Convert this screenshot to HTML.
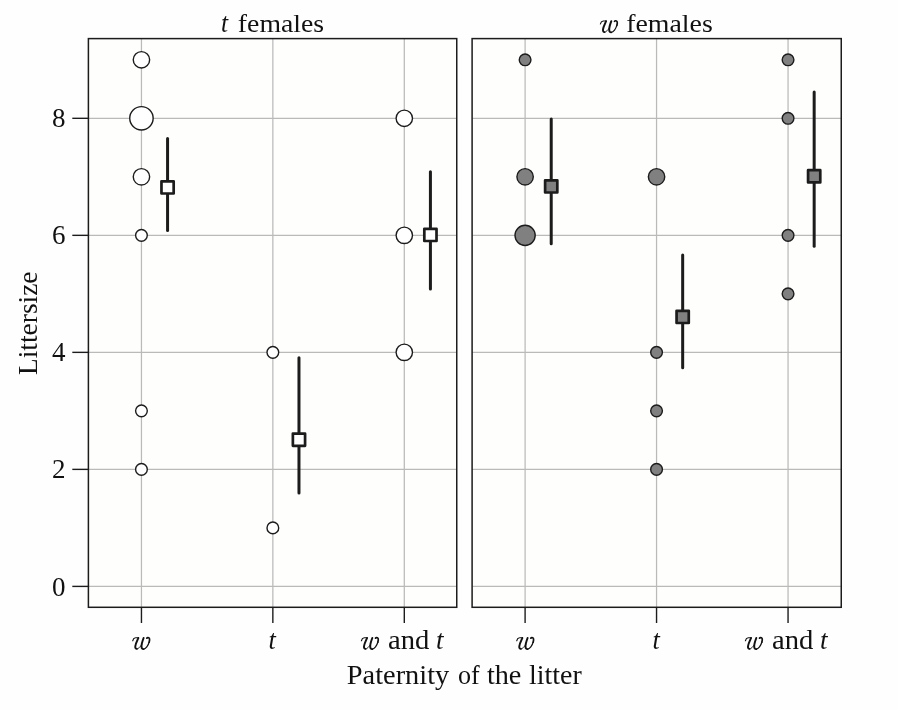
<!DOCTYPE html>
<html><head><meta charset="utf-8"><style>
html,body{margin:0;padding:0;background:#fefefe;}
svg{display:block;}
text{font-family:"Liberation Serif",serif;font-size:27px;fill:#111;}
svg{will-change:transform;}
</style></head><body>
<svg width="898" height="710" viewBox="0 0 898 710">
<rect x="88.4" y="38.6" width="368.35" height="568.70" fill="#fefefd"/>
<line x1="88.4" x2="456.75" y1="586.40" y2="586.40" stroke="#bababa" stroke-width="1.25"/>
<line x1="88.4" x2="456.75" y1="469.38" y2="469.38" stroke="#bababa" stroke-width="1.25"/>
<line x1="88.4" x2="456.75" y1="352.36" y2="352.36" stroke="#bababa" stroke-width="1.25"/>
<line x1="88.4" x2="456.75" y1="235.34" y2="235.34" stroke="#bababa" stroke-width="1.25"/>
<line x1="88.4" x2="456.75" y1="118.32" y2="118.32" stroke="#bababa" stroke-width="1.25"/>
<line x1="141.45" x2="141.45" y1="38.6" y2="607.3" stroke="#bababa" stroke-width="1.25"/>
<line x1="272.85" x2="272.85" y1="38.6" y2="607.3" stroke="#bababa" stroke-width="1.25"/>
<line x1="404.30" x2="404.30" y1="38.6" y2="607.3" stroke="#bababa" stroke-width="1.25"/>
<rect x="472.1" y="38.6" width="369.15" height="568.70" fill="#fefefd"/>
<line x1="472.1" x2="841.25" y1="586.40" y2="586.40" stroke="#bababa" stroke-width="1.25"/>
<line x1="472.1" x2="841.25" y1="469.38" y2="469.38" stroke="#bababa" stroke-width="1.25"/>
<line x1="472.1" x2="841.25" y1="352.36" y2="352.36" stroke="#bababa" stroke-width="1.25"/>
<line x1="472.1" x2="841.25" y1="235.34" y2="235.34" stroke="#bababa" stroke-width="1.25"/>
<line x1="472.1" x2="841.25" y1="118.32" y2="118.32" stroke="#bababa" stroke-width="1.25"/>
<line x1="525.10" x2="525.10" y1="38.6" y2="607.3" stroke="#bababa" stroke-width="1.25"/>
<line x1="656.55" x2="656.55" y1="38.6" y2="607.3" stroke="#bababa" stroke-width="1.25"/>
<line x1="788.05" x2="788.05" y1="38.6" y2="607.3" stroke="#bababa" stroke-width="1.25"/>
<circle cx="141.45" cy="59.81" r="8.20" fill="#fff" stroke="#1c1c1c" stroke-width="1.4"/>
<circle cx="141.45" cy="118.32" r="11.70" fill="#fff" stroke="#1c1c1c" stroke-width="1.4"/>
<circle cx="141.45" cy="176.83" r="8.20" fill="#fff" stroke="#1c1c1c" stroke-width="1.4"/>
<circle cx="141.45" cy="235.34" r="5.85" fill="#fff" stroke="#1c1c1c" stroke-width="1.4"/>
<circle cx="141.45" cy="410.87" r="5.85" fill="#fff" stroke="#1c1c1c" stroke-width="1.4"/>
<circle cx="141.45" cy="469.38" r="5.85" fill="#fff" stroke="#1c1c1c" stroke-width="1.4"/>
<circle cx="272.85" cy="352.36" r="5.85" fill="#fff" stroke="#1c1c1c" stroke-width="1.4"/>
<circle cx="272.85" cy="527.89" r="5.85" fill="#fff" stroke="#1c1c1c" stroke-width="1.4"/>
<circle cx="404.30" cy="118.32" r="8.20" fill="#fff" stroke="#1c1c1c" stroke-width="1.4"/>
<circle cx="404.30" cy="235.34" r="8.20" fill="#fff" stroke="#1c1c1c" stroke-width="1.4"/>
<circle cx="404.30" cy="352.36" r="8.20" fill="#fff" stroke="#1c1c1c" stroke-width="1.4"/>
<circle cx="525.10" cy="59.81" r="5.85" fill="#808080" stroke="#1c1c1c" stroke-width="1.4"/>
<circle cx="525.10" cy="176.83" r="8.20" fill="#808080" stroke="#1c1c1c" stroke-width="1.4"/>
<circle cx="525.10" cy="235.34" r="10.10" fill="#808080" stroke="#1c1c1c" stroke-width="1.4"/>
<circle cx="656.55" cy="176.83" r="8.20" fill="#808080" stroke="#1c1c1c" stroke-width="1.4"/>
<circle cx="656.55" cy="352.36" r="5.85" fill="#808080" stroke="#1c1c1c" stroke-width="1.4"/>
<circle cx="656.55" cy="410.87" r="5.85" fill="#808080" stroke="#1c1c1c" stroke-width="1.4"/>
<circle cx="656.55" cy="469.38" r="5.85" fill="#808080" stroke="#1c1c1c" stroke-width="1.4"/>
<circle cx="788.05" cy="59.81" r="5.85" fill="#808080" stroke="#1c1c1c" stroke-width="1.4"/>
<circle cx="788.05" cy="118.32" r="5.85" fill="#808080" stroke="#1c1c1c" stroke-width="1.4"/>
<circle cx="788.05" cy="235.34" r="5.85" fill="#808080" stroke="#1c1c1c" stroke-width="1.4"/>
<circle cx="788.05" cy="293.85" r="5.85" fill="#808080" stroke="#1c1c1c" stroke-width="1.4"/>
<line x1="167.57" x2="167.57" y1="138.50" y2="230.50" stroke="#1c1c1c" stroke-width="3.0" stroke-linecap="round"/>
<rect x="161.47" y="181.30" width="12.20" height="12.20" fill="#fff" stroke="#1c1c1c" stroke-width="2.7" stroke-linejoin="round"/>
<line x1="298.97" x2="298.97" y1="357.70" y2="492.90" stroke="#1c1c1c" stroke-width="3.0" stroke-linecap="round"/>
<rect x="292.87" y="433.60" width="12.20" height="12.20" fill="#fff" stroke="#1c1c1c" stroke-width="2.7" stroke-linejoin="round"/>
<line x1="430.42" x2="430.42" y1="171.75" y2="289.00" stroke="#1c1c1c" stroke-width="3.0" stroke-linecap="round"/>
<rect x="424.32" y="228.80" width="12.20" height="12.20" fill="#fff" stroke="#1c1c1c" stroke-width="2.7" stroke-linejoin="round"/>
<line x1="551.22" x2="551.22" y1="119.10" y2="243.85" stroke="#1c1c1c" stroke-width="3.0" stroke-linecap="round"/>
<rect x="545.12" y="180.30" width="12.20" height="12.20" fill="#808080" stroke="#1c1c1c" stroke-width="2.7" stroke-linejoin="round"/>
<line x1="682.67" x2="682.67" y1="254.90" y2="367.70" stroke="#1c1c1c" stroke-width="3.0" stroke-linecap="round"/>
<rect x="676.57" y="310.80" width="12.20" height="12.20" fill="#808080" stroke="#1c1c1c" stroke-width="2.7" stroke-linejoin="round"/>
<line x1="814.17" x2="814.17" y1="92.10" y2="246.30" stroke="#1c1c1c" stroke-width="3.0" stroke-linecap="round"/>
<rect x="808.07" y="170.20" width="12.20" height="12.20" fill="#808080" stroke="#1c1c1c" stroke-width="2.7" stroke-linejoin="round"/>
<rect x="88.4" y="38.6" width="368.35" height="568.70" fill="none" stroke="#1c1c1c" stroke-width="1.5"/>
<rect x="472.1" y="38.6" width="369.15" height="568.70" fill="none" stroke="#1c1c1c" stroke-width="1.5"/>
<line x1="72.3" x2="88.4" y1="586.40" y2="586.40" stroke="#1c1c1c" stroke-width="1.4"/>
<line x1="72.3" x2="88.4" y1="469.38" y2="469.38" stroke="#1c1c1c" stroke-width="1.4"/>
<line x1="72.3" x2="88.4" y1="352.36" y2="352.36" stroke="#1c1c1c" stroke-width="1.4"/>
<line x1="72.3" x2="88.4" y1="235.34" y2="235.34" stroke="#1c1c1c" stroke-width="1.4"/>
<line x1="72.3" x2="88.4" y1="118.32" y2="118.32" stroke="#1c1c1c" stroke-width="1.4"/>
<line x1="141.45" x2="141.45" y1="607.3" y2="623" stroke="#1c1c1c" stroke-width="1.4"/>
<line x1="272.85" x2="272.85" y1="607.3" y2="623" stroke="#1c1c1c" stroke-width="1.4"/>
<line x1="404.30" x2="404.30" y1="607.3" y2="623" stroke="#1c1c1c" stroke-width="1.4"/>
<line x1="525.10" x2="525.10" y1="607.3" y2="623" stroke="#1c1c1c" stroke-width="1.4"/>
<line x1="656.55" x2="656.55" y1="607.3" y2="623" stroke="#1c1c1c" stroke-width="1.4"/>
<line x1="788.05" x2="788.05" y1="607.3" y2="623" stroke="#1c1c1c" stroke-width="1.4"/>
<text x="220.96" y="32.0" style="font-size:27px" textLength="7.09" lengthAdjust="spacingAndGlyphs" font-style="italic">t</text>
<text x="237.87" y="32.0" style="font-size:26px" textLength="86.28" lengthAdjust="spacingAndGlyphs">females</text>
<g transform="translate(599.90,31.90) scale(1,0.92)"><path d="M0.5 -8.6 C0.9 -10.5 1.8 -11.6 3.2 -11.8 C4.4 -12.0 5.5 -11.8 6.3 -12.0" fill="none" stroke="#111" stroke-width="1.15" stroke-linecap="round"/><path d="M6.2 -11.6 C5.0 -8.6 3.3 -5.2 3.1 -2.7 C2.9 -0.6 3.7 0.3 4.6 0.3" fill="none" stroke="#111" stroke-width="1.95" stroke-linecap="round"/><path d="M4.6 0.3 C6.4 0.2 8.3 -2.3 9.6 -4.6" fill="none" stroke="#111" stroke-width="0.9" stroke-linecap="round"/><path d="M11.4 -11.7 C10.4 -8.8 9.3 -5.2 9.3 -2.6 C9.3 -0.5 10.1 0.5 11.3 0.5" fill="none" stroke="#111" stroke-width="1.95" stroke-linecap="round"/><path d="M11.3 0.5 C13.6 0.4 16.0 -3.5 16.9 -7.0" fill="none" stroke="#111" stroke-width="1.2" stroke-linecap="round"/><path d="M16.9 -7.0 C17.6 -9.7 17.4 -11.5 16.5 -11.9 C15.7 -12.2 14.9 -11.9 14.6 -11.4" fill="none" stroke="#111" stroke-width="1.75" stroke-linecap="round"/></g>
<text x="626.17" y="32.0" style="font-size:26px" textLength="86.58" lengthAdjust="spacingAndGlyphs">females</text>
<text x="52.0" y="595.50">0</text>
<text x="52.0" y="478.48">2</text>
<text x="52.0" y="361.46">4</text>
<text x="52.0" y="244.44">6</text>
<text x="52.0" y="127.42">8</text>
<g transform="translate(132.20,648.70) scale(1,0.92)"><path d="M0.5 -8.6 C0.9 -10.5 1.8 -11.6 3.2 -11.8 C4.4 -12.0 5.5 -11.8 6.3 -12.0" fill="none" stroke="#111" stroke-width="1.15" stroke-linecap="round"/><path d="M6.2 -11.6 C5.0 -8.6 3.3 -5.2 3.1 -2.7 C2.9 -0.6 3.7 0.3 4.6 0.3" fill="none" stroke="#111" stroke-width="1.95" stroke-linecap="round"/><path d="M4.6 0.3 C6.4 0.2 8.3 -2.3 9.6 -4.6" fill="none" stroke="#111" stroke-width="0.9" stroke-linecap="round"/><path d="M11.4 -11.7 C10.4 -8.8 9.3 -5.2 9.3 -2.6 C9.3 -0.5 10.1 0.5 11.3 0.5" fill="none" stroke="#111" stroke-width="1.95" stroke-linecap="round"/><path d="M11.3 0.5 C13.6 0.4 16.0 -3.5 16.9 -7.0" fill="none" stroke="#111" stroke-width="1.2" stroke-linecap="round"/><path d="M16.9 -7.0 C17.6 -9.7 17.4 -11.5 16.5 -11.9 C15.7 -12.2 14.9 -11.9 14.6 -11.4" fill="none" stroke="#111" stroke-width="1.75" stroke-linecap="round"/></g>
<text x="268.53" y="648.8" style="font-size:27px" textLength="7.3" lengthAdjust="spacingAndGlyphs" font-style="italic">t</text>
<g transform="translate(360.90,648.70) scale(1,0.92)"><path d="M0.5 -8.6 C0.9 -10.5 1.8 -11.6 3.2 -11.8 C4.4 -12.0 5.5 -11.8 6.3 -12.0" fill="none" stroke="#111" stroke-width="1.15" stroke-linecap="round"/><path d="M6.2 -11.6 C5.0 -8.6 3.3 -5.2 3.1 -2.7 C2.9 -0.6 3.7 0.3 4.6 0.3" fill="none" stroke="#111" stroke-width="1.95" stroke-linecap="round"/><path d="M4.6 0.3 C6.4 0.2 8.3 -2.3 9.6 -4.6" fill="none" stroke="#111" stroke-width="0.9" stroke-linecap="round"/><path d="M11.4 -11.7 C10.4 -8.8 9.3 -5.2 9.3 -2.6 C9.3 -0.5 10.1 0.5 11.3 0.5" fill="none" stroke="#111" stroke-width="1.95" stroke-linecap="round"/><path d="M11.3 0.5 C13.6 0.4 16.0 -3.5 16.9 -7.0" fill="none" stroke="#111" stroke-width="1.2" stroke-linecap="round"/><path d="M16.9 -7.0 C17.6 -9.7 17.4 -11.5 16.5 -11.9 C15.7 -12.2 14.9 -11.9 14.6 -11.4" fill="none" stroke="#111" stroke-width="1.75" stroke-linecap="round"/></g>
<text x="388.00" y="648.8" style="font-size:26.5px" textLength="41.38" lengthAdjust="spacingAndGlyphs">and</text>
<text x="436.10" y="648.8" style="font-size:27px" textLength="7.52" lengthAdjust="spacingAndGlyphs" font-style="italic">t</text>
<g transform="translate(516.20,648.70) scale(1,0.92)"><path d="M0.5 -8.6 C0.9 -10.5 1.8 -11.6 3.2 -11.8 C4.4 -12.0 5.5 -11.8 6.3 -12.0" fill="none" stroke="#111" stroke-width="1.15" stroke-linecap="round"/><path d="M6.2 -11.6 C5.0 -8.6 3.3 -5.2 3.1 -2.7 C2.9 -0.6 3.7 0.3 4.6 0.3" fill="none" stroke="#111" stroke-width="1.95" stroke-linecap="round"/><path d="M4.6 0.3 C6.4 0.2 8.3 -2.3 9.6 -4.6" fill="none" stroke="#111" stroke-width="0.9" stroke-linecap="round"/><path d="M11.4 -11.7 C10.4 -8.8 9.3 -5.2 9.3 -2.6 C9.3 -0.5 10.1 0.5 11.3 0.5" fill="none" stroke="#111" stroke-width="1.95" stroke-linecap="round"/><path d="M11.3 0.5 C13.6 0.4 16.0 -3.5 16.9 -7.0" fill="none" stroke="#111" stroke-width="1.2" stroke-linecap="round"/><path d="M16.9 -7.0 C17.6 -9.7 17.4 -11.5 16.5 -11.9 C15.7 -12.2 14.9 -11.9 14.6 -11.4" fill="none" stroke="#111" stroke-width="1.75" stroke-linecap="round"/></g>
<text x="652.53" y="648.8" style="font-size:27px" textLength="7.3" lengthAdjust="spacingAndGlyphs" font-style="italic">t</text>
<g transform="translate(744.90,648.70) scale(1,0.92)"><path d="M0.5 -8.6 C0.9 -10.5 1.8 -11.6 3.2 -11.8 C4.4 -12.0 5.5 -11.8 6.3 -12.0" fill="none" stroke="#111" stroke-width="1.15" stroke-linecap="round"/><path d="M6.2 -11.6 C5.0 -8.6 3.3 -5.2 3.1 -2.7 C2.9 -0.6 3.7 0.3 4.6 0.3" fill="none" stroke="#111" stroke-width="1.95" stroke-linecap="round"/><path d="M4.6 0.3 C6.4 0.2 8.3 -2.3 9.6 -4.6" fill="none" stroke="#111" stroke-width="0.9" stroke-linecap="round"/><path d="M11.4 -11.7 C10.4 -8.8 9.3 -5.2 9.3 -2.6 C9.3 -0.5 10.1 0.5 11.3 0.5" fill="none" stroke="#111" stroke-width="1.95" stroke-linecap="round"/><path d="M11.3 0.5 C13.6 0.4 16.0 -3.5 16.9 -7.0" fill="none" stroke="#111" stroke-width="1.2" stroke-linecap="round"/><path d="M16.9 -7.0 C17.6 -9.7 17.4 -11.5 16.5 -11.9 C15.7 -12.2 14.9 -11.9 14.6 -11.4" fill="none" stroke="#111" stroke-width="1.75" stroke-linecap="round"/></g>
<text x="772.00" y="648.8" style="font-size:26.5px" textLength="41.38" lengthAdjust="spacingAndGlyphs">and</text>
<text x="820.10" y="648.8" style="font-size:27px" textLength="7.52" lengthAdjust="spacingAndGlyphs" font-style="italic">t</text>
<text x="346.85" y="684.4" style="font-size:27px" textLength="102.41" lengthAdjust="spacingAndGlyphs">Paternity</text>
<text x="457.90" y="684.4" style="font-size:27px" textLength="21.72" lengthAdjust="spacingAndGlyphs">of</text>
<text x="486.90" y="684.4" style="font-size:27px" textLength="34.5" lengthAdjust="spacingAndGlyphs">the</text>
<text x="529.00" y="684.4" style="font-size:27px" textLength="52.68" lengthAdjust="spacingAndGlyphs">litter</text>
<text transform="translate(36.8,375.0) rotate(-90)" textLength="103.55" lengthAdjust="spacingAndGlyphs">Littersize</text>
</svg>
</body></html>
